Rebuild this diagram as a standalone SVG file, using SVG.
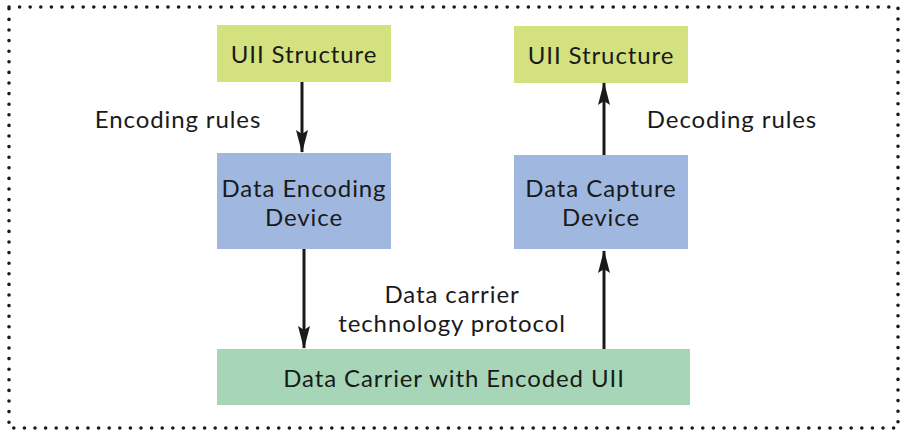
<svg xmlns="http://www.w3.org/2000/svg" width="900" height="432" viewBox="0 0 900 432">
<defs>
<marker id="ah" markerWidth="23" markerHeight="12" refX="22" refY="6" orient="auto" markerUnits="userSpaceOnUse" viewBox="0 0 23 12">
<path d="M0,0 L23,6 L0,12 L4,6 Z" fill="#1a1a1a"/>
</marker>
<style>
text{font-family:Lato,"Open Sans","Liberation Sans",sans-serif;font-size:24px;letter-spacing:0.9px;fill:#1a1a1a;text-anchor:middle}
.y{fill:#d4e17f}
.b{fill:#a0b8df}
.g{fill:#a6d6b7}
.c{stroke:#1a1a1a;stroke-width:3;fill:none;marker-end:url(#ah)}
</style>
</defs>
<rect width="900" height="432" fill="#fff"/>
<rect x="9" y="7" width="889" height="421" fill="none" stroke="#1a1a1a" stroke-width="3.6" stroke-linecap="round" stroke-dasharray="0 10.6"/>
<g id="uii-left"><rect class="y" x="217" y="25" width="174" height="57"/><text x="304" y="63">UII Structure</text></g>
<g id="uii-right"><rect class="y" x="514" y="26" width="174" height="57"/><text x="601" y="64">UII Structure</text></g>
<g id="encoder"><rect class="b" x="217" y="153" width="174" height="96"/><text x="304" y="197">Data Encoding<tspan x="304" y="226">Device</tspan></text></g>
<g id="capture"><rect class="b" x="514" y="155" width="174" height="94"/><text x="601" y="197">Data Capture<tspan x="601" y="226">Device</tspan></text></g>
<g id="carrier"><rect class="g" x="217" y="349" width="473" height="56"/><text x="454" y="387">Data Carrier with Encoded UII</text></g>
<g id="labels">
<text x="178" y="128">Encoding rules</text>
<text x="732" y="128">Decoding rules</text>
<text x="452" y="303">Data carrier<tspan x="452" y="332">technology protocol</tspan></text>
</g>
<g id="connectors">
<line class="c" x1="302" y1="82" x2="302" y2="152"/>
<line class="c" x1="304" y1="249" x2="304" y2="348"/>
<line class="c" x1="604" y1="155" x2="604" y2="83"/>
<line class="c" x1="604" y1="349" x2="604" y2="251"/>
</g>
</svg>
